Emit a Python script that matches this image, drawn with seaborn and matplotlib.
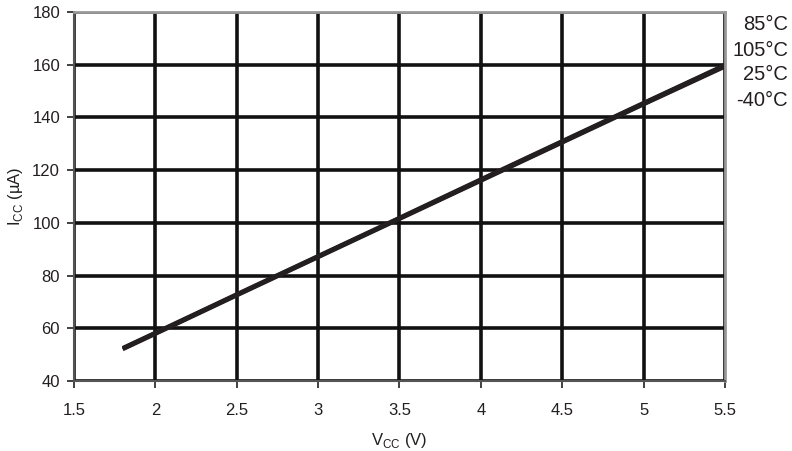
import matplotlib
matplotlib.use("Agg")
import matplotlib.pyplot as plt
import seaborn as sns
import pandas as pd

vcc = [1.8, 2.0, 2.5, 3.0, 3.5, 4.0, 4.5, 5.0, 5.5]
icc_85 = [52.6, 58.4, 73.0, 87.5, 102.0, 116.6, 131.1, 145.6, 160.0]
icc_105 = [52.4, 58.2, 72.8, 87.3, 101.8, 116.4, 130.9, 145.4, 159.8]
icc_25 = [52.2, 58.0, 72.6, 87.1, 101.6, 116.1, 130.6, 145.1, 159.5]
icc_m40 = [52.0, 57.8, 72.4, 86.9, 101.4, 115.9, 130.4, 144.9, 159.2]
labels = ["85°C", "105°C", "25°C", "-40°C"]

rows = []
for lab, vals in zip(labels, [icc_85, icc_105, icc_25, icc_m40]):
    for v, i in zip(vcc, vals):
        rows.append({"Vcc": v, "Icc": i, "T": lab})
df = pd.DataFrame(rows)

sns.set_theme(style="white")
plt.rcParams['font.family'] = ['Liberation Sans', 'DejaVu Sans']

fig = plt.figure(figsize=(7.92, 4.51), dpi=100)
ax = fig.add_axes([0.0934, 0.1552, 0.8220, 0.8182])

sns.lineplot(data=df, x="Vcc", y="Icc", hue="T", palette=["#231f20"] * 4,
             linewidth=2.7, legend=False, ax=ax, solid_capstyle="butt")

ax.set_xlim(1.5, 5.5)
ax.set_ylim(40, 180)
ax.set_xticks([1.5, 2, 2.5, 3, 3.5, 4, 4.5, 5, 5.5])
ax.set_xticklabels(["1.5", "2", "2.5", "3", "3.5", "4", "4.5", "5", "5.5"])
ax.set_yticks(range(40, 181, 20))

ax.grid(True, color="#111111", linewidth=2.6)
ax.set_axisbelow(True)

for s in ["top", "right"]:
    ax.spines[s].set_color("#999999")
    ax.spines[s].set_linewidth(2.0)
for s in ["left", "bottom"]:
    ax.spines[s].set_color("#555555")
    ax.spines[s].set_linewidth(1.5)

ax.tick_params(axis="both", direction="out", length=5, width=1.2, color="#231f20",
               labelsize=12, labelcolor="#231f20", left=True, bottom=True)
ax.tick_params(axis="x", pad=11)
ax.tick_params(axis="y", pad=5)

ax.set_xlabel(r"V$_{\mathregular{CC}}$ (V)", fontsize=12, color="#231f20", labelpad=9)
ax.set_ylabel(r"I$_{\mathregular{CC}}$ (µA)", fontsize=12, color="#231f20", labelpad=5)

ypos = [0.945, 0.889, 0.834, 0.778]
for lab, yp in zip(labels, ypos):
    fig.text(0.995, yp, lab, ha="right", va="center", fontsize=14.5, color="#231f20")

fig.savefig("out.png", dpi=100)
